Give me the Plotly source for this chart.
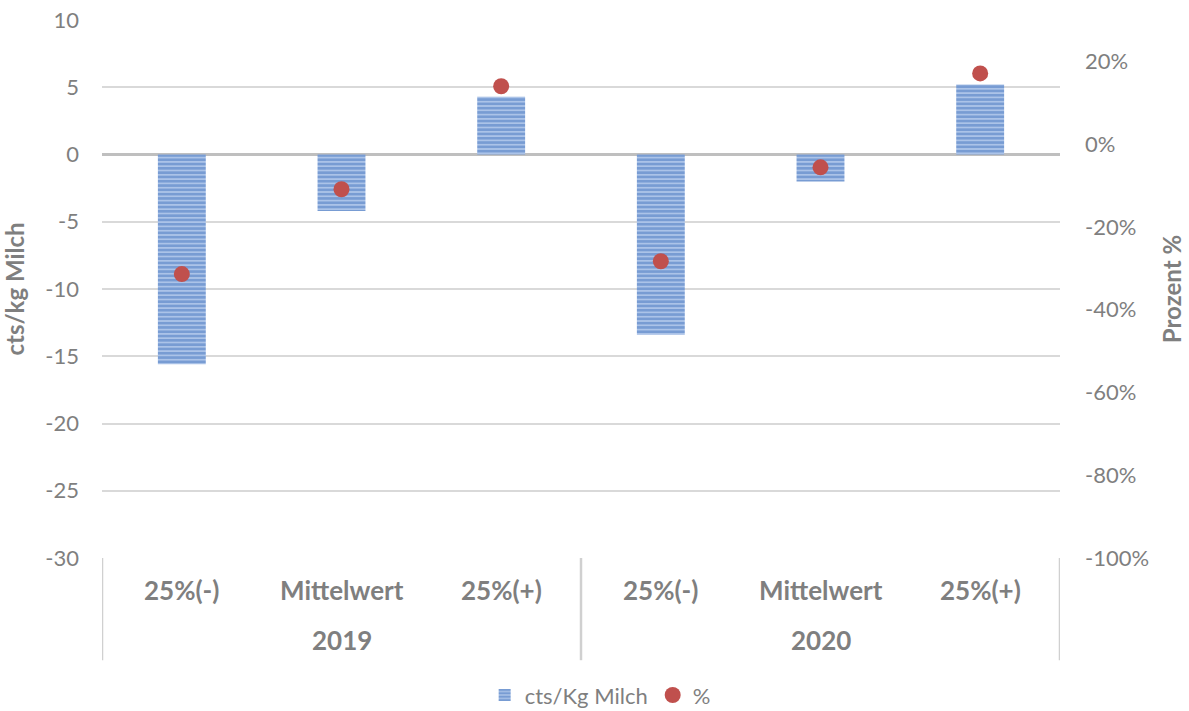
import plotly.graph_objects as go

years = ["2019", "2020"]
categories = ["25%(-)", "Mittelwert", "25%(+)", "25%(-)", "Mittelwert", "25%(+)"]
cts_values = [-15.6, -4.2, 4.3, -13.4, -2.0, 5.2]
pct_values = [-31.4, -10.9, 14.0, -28.3, -5.6, 17.1]
left_ticks = [10, 5, 0, -5, -10, -15, -20, -25, -30]
right_ticks = [20, 0, -20, -40, -60, -80, -100]

FONT = "Lato"
GREY = "#7F7F7F"
xpos = list(range(len(categories)))

fig = go.Figure()
fig.add_trace(go.Bar(
    x=xpos, y=cts_values, name="cts/Kg Milch", width=0.3,
    marker=dict(color="#8FAEDD", line=dict(width=0),
                pattern=dict(shape="-", fgcolor="#4675BE", bgcolor="#ABC3E8",
                             size=4.3, solidity=0.6)),
))
fig.add_trace(go.Scatter(
    x=xpos, y=pct_values, name="%", mode="markers", yaxis="y2",
    marker=dict(color="#C0504D", size=16),
))

annotations = []
for i, c in enumerate(categories):
    annotations.append(dict(x=i, y=-0.06, xref="x", yref="paper", text=c, showarrow=False,
                            font=dict(family=FONT, size=26, color=GREY, weight="bold"),
                            yanchor="middle"))
for j, yr in enumerate(years):
    annotations.append(dict(x=1 + 3 * j, y=-0.153, xref="x", yref="paper", text=yr, showarrow=False,
                            font=dict(family=FONT, size=26, color=GREY, weight="bold"),
                            yanchor="middle"))

shapes = []
for xd in [-0.5, 2.5, 5.5]:
    shapes.append(dict(type="line", xref="x", yref="paper", x0=xd, x1=xd, y0=0, y1=-0.19,
                       line=dict(color="#D0D0D0", width=2.5)))

fig.update_layout(
    width=1189, height=711,
    margin=dict(l=102, r=129, t=20, b=153, autoexpand=False),
    paper_bgcolor="white", plot_bgcolor="white",
    font=dict(family=FONT, color=GREY),
    showlegend=True,
    legend=dict(orientation="h", x=0.52, y=-0.255, xanchor="center", yanchor="middle",
                font=dict(family=FONT, size=22, color=GREY), itemwidth=30),
    xaxis=dict(range=[-0.5, 5.5], showticklabels=False, showgrid=False, zeroline=False,
               showline=False, ticks="", automargin=False),
    yaxis=dict(range=[-30, 10], tickvals=left_ticks, ticktext=[str(v) for v in left_ticks],
               showgrid=True, gridcolor="#D9D9D9", gridwidth=1.5,
               zeroline=True, zerolinecolor="#BFBFBF", zerolinewidth=3,
               showline=False, ticks="", ticklabelstandoff=22, automargin=False,
               ticklabeloverflow="allow",
               tickfont=dict(family=FONT, size=22, color=GREY),
               title=dict(text="cts/kg Milch", standoff=14,
                          font=dict(family=FONT, size=24, color=GREY, weight="bold"))),
    yaxis2=dict(range=[-100, 30], overlaying="y", side="right",
                tickvals=right_ticks, ticktext=[f"{v}%" for v in right_ticks],
                showgrid=False, zeroline=False, showline=False, ticks="",
                ticklabelstandoff=24, automargin=False, ticklabeloverflow="allow",
                tickfont=dict(family=FONT, size=22, color=GREY),
                title=dict(text="Prozent %", standoff=16,
                           font=dict(family=FONT, size=24, color=GREY, weight="bold"))),
    annotations=annotations, shapes=shapes,
)

fig.write_html(
    "out.html",
    config={"displayModeBar": False},
    post_script="document.body.style.margin='0';document.body.style.overflow='hidden';",
)
